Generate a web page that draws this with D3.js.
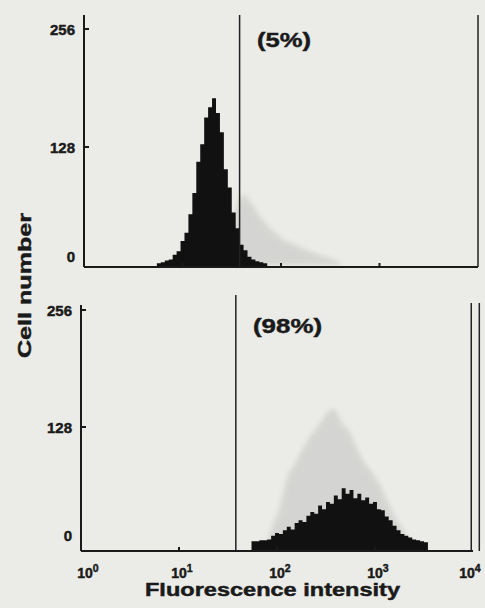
<!DOCTYPE html>
<html>
<head>
<meta charset="utf-8">
<script src="https://cdn.jsdelivr.net/npm/d3@7"></script>
<style>
  html, body { margin: 0; padding: 0; background: #ebebe8; }
  svg { display: block; }
  text { font-family: "Liberation Sans", Arial, sans-serif; font-weight: bold; fill: #1a1a1a; stroke: #1a1a1a; stroke-width: 0.45px; }
</style>
</head>
<body>
<svg id="chart" width="485" height="608"></svg>
<script>
// ---------------- DATA ----------------
const xTickValues = [1, 10, 100, 1000, 10000];
const xTickExponents = ["0", "1", "2", "3", "4"];
const yTickValues = [0, 128, 256];
const panelNames = ["control", "stained"];
const percentLabels = ["(5%)", "(98%)"];
const gateValue = 38;            // marker gate (fluorescence units)
const rightMarkersTop = [10000];
const rightMarkersBottom = [9600, 11600];

const binStep = 0.04;            // histogram bin width (log10 units)
const topBinStart = 0.74;        // log10 of first bin
const topCounts = [2,3,5,6,11,15,26,35,55,78,112,131,160,171,181,165,144,104,84,57,40,22,16,9,6,4,3,2];
const bottomBinStart = 1.74;
const bottomCounts = [3,3,4,4,5,9,12,11,15,19,16,23,26,24,31,35,33,42,38,46,44,53,49,61,55,59,50,55,48,51,44,46,38,37,30,26,20,15,11,9,7,5,4,3,2];

const ghostStep = 0.08;          // faint show-through histograms
const topGhostStart = 1.50;
const topGhostCounts = [60,76,67,54,43,35,28,24,20,16,13,10,7,4];
const bottomGhostStart = 1.90;
const bottomGhostCounts = [16,38,71,88,104,118,129,142,148,133,123,104,88,77,63,44,27,13];

// ---------------- LAYOUT ----------------
const svg = d3.select("#chart");
const defs = svg.append("defs");
defs.append("filter").attr("id", "haze")
  .attr("x", "-20%").attr("y", "-20%").attr("width", "140%").attr("height", "140%")
  .append("feGaussianBlur").attr("stdDeviation", 2.5);

const panels = [
  { name: panelNames[0], left: 84, right: 478, axisTop: 15, axisY: 267, y0: 265, y256: 29,
    counts: topCounts, start: topBinStart, ghost: topGhostCounts, ghostStart: topGhostStart,
    gateTop: 15, markers: rightMarkersTop, markerTop: 15, label: percentLabels[0], labelX: 257, labelY: 47, labelW: 54,
    showXLabels: false },
  { name: panelNames[1], left: 81, right: 473, axisTop: 305, axisY: 551, y0: 544, y256: 310,
    counts: bottomCounts, start: bottomBinStart, ghost: bottomGhostCounts, ghostStart: bottomGhostStart,
    gateTop: 295, markers: rightMarkersBottom, markerTop: 303, label: percentLabels[1], labelX: 253, labelY: 333, labelW: 69,
    showXLabels: true }
];

function stepPoints(counts, start, step) {
  const pts = counts.map((c, i) => ({ lo: start + i * step, c }));
  pts.push({ lo: start + counts.length * step, c: counts[counts.length - 1] });
  return pts;
}

panels.forEach(p => {
  const g = svg.append("g").attr("class", "panel-" + p.name);
  const x = d3.scaleLog().domain([1, 10000]).range([p.left, p.right]);
  const y = d3.scaleLinear().domain([0, 256]).range([p.y0, p.y256]);

  // ghost (faint grey show-through), smooth hazy area
  const ghostPts = p.ghost.map((c, i) => ({ lo: p.ghostStart + (i + 0.5) * ghostStep, c }));
  ghostPts.unshift({ lo: p.ghostStart, c: 0 });
  ghostPts.push({ lo: p.ghostStart + p.ghost.length * ghostStep, c: 0 });
  const ghostArea = d3.area()
    .x(d => x(Math.pow(10, d.lo)))
    .y0(y(0)).y1(d => y(d.c))
    .curve(d3.curveMonotoneX);
  g.append("path").datum(ghostPts)
    .attr("d", ghostArea)
    .attr("fill", "#9c9c9a")
    .attr("opacity", 0.28)
    .attr("filter", "url(#haze)");

  // black histogram as a step area
  const area = d3.area()
    .x(d => x(Math.pow(10, d.lo)))
    .y0(p.axisY).y1(d => y(d.c))
    .curve(d3.curveStepAfter);
  g.append("path").datum(stepPoints(p.counts, p.start, binStep))
    .attr("d", area)
    .attr("fill", "#111");

  // y axis line
  g.append("line")
    .attr("x1", p.left).attr("x2", p.left)
    .attr("y1", p.axisTop).attr("y2", p.axisY)
    .attr("stroke", "#1a1a1a").attr("stroke-width", 2);
  // y ticks (pointing inward)
  g.selectAll(".ytick").data(yTickValues.filter(v => v > 0)).join("line")
    .attr("x1", p.left).attr("x2", p.left + 5)
    .attr("y1", d => y(d)).attr("y2", d => y(d))
    .attr("stroke", "#1a1a1a").attr("stroke-width", 2);
  g.selectAll(".ylab").data(yTickValues).join("text")
    .attr("x", p.left - 9)
    .attr("y", d => Math.min(y(d), p.y0 - 9) + 5.5)
    .attr("text-anchor", "end")
    .attr("font-size", 15)
    .text(d => d);

  // x axis line
  g.append("line")
    .attr("x1", p.left).attr("x2", p.right)
    .attr("y1", p.axisY).attr("y2", p.axisY)
    .attr("stroke", "#1a1a1a").attr("stroke-width", 2.2);
  g.selectAll(".xtick").data(xTickValues.slice(1, 4)).join("line")
    .attr("x1", d => x(d)).attr("x2", d => x(d))
    .attr("y1", p.axisY).attr("y2", p.axisY - 4)
    .attr("stroke", "#1a1a1a").attr("stroke-width", 2);

  // gate line
  g.append("line")
    .attr("x1", x(gateValue)).attr("x2", x(gateValue))
    .attr("y1", p.gateTop).attr("y2", p.axisY)
    .attr("stroke", "#222").attr("stroke-width", 1.5);
  // right marker lines
  g.selectAll(".marker").data(p.markers).join("line")
    .attr("x1", d => x(d)).attr("x2", d => x(d))
    .attr("y1", p.markerTop).attr("y2", p.axisY)
    .attr("stroke", "#222").attr("stroke-width", 1.5);

  // percentage label
  g.append("text")
    .attr("x", p.labelX).attr("y", p.labelY)
    .attr("font-size", 20.5)
    .attr("textLength", p.labelW).attr("lengthAdjust", "spacingAndGlyphs")
    .text(p.label);

  if (p.showXLabels) {
    const lab = g.selectAll(".xlab").data(xTickValues).join("text")
      .attr("x", (d, i) => x(d) + (i === 0 ? 7 : i === xTickValues.length - 1 ? -3 : 3))
      .attr("y", 578)
      .attr("text-anchor", "middle")
      .attr("font-size", 14);
    lab.append("tspan").text("10");
    lab.append("tspan").attr("dy", -6).attr("font-size", 10.5).text((d, i) => xTickExponents[i]);
  }
});

// axis titles
svg.append("text")
  .attr("x", 145).attr("y", 596)
  .attr("font-size", 18)
  .attr("textLength", 255).attr("lengthAdjust", "spacingAndGlyphs")
  .text("Fluorescence intensity");

svg.append("text")
  .attr("transform", "translate(31,358) rotate(-90)")
  .attr("x", 0).attr("y", 0)
  .attr("font-size", 18.5)
  .attr("textLength", 145).attr("lengthAdjust", "spacingAndGlyphs")
  .text("Cell number");
</script>
</body>
</html>
